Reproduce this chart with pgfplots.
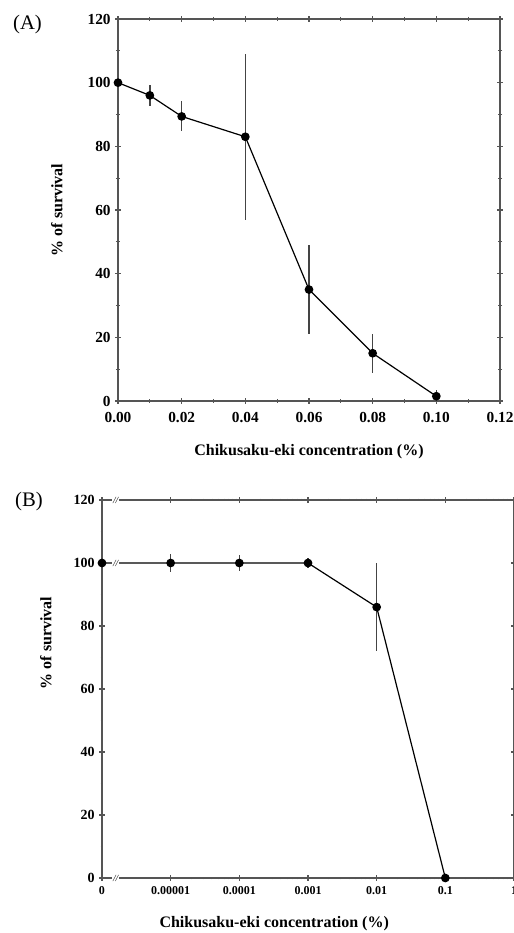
\documentclass[border=0pt]{standalone}
\usepackage{fontspec}
\setmainfont{Liberation Serif}
\usepackage{pgfplots}
\pgfplotsset{compat=1.18}
\definecolor{axgray}{HTML}{555555}
\definecolor{ebgray}{HTML}{444444}
\tikzset{brk/.style={font=\fontsize{7}{7}\selectfont\itshape, fill=white, inner sep=0.6pt}}
\begin{document}
\begin{tikzpicture}[x=1pt,y=1pt]
\useasboundingbox (0,0) rectangle (385.5,699.75);
\pgfplotsset{
  common/.style={
    scale only axis,
    ymin=0, ymax=120,
    ytick={0,20,40,60,80,100,120},
    minor y tick num=1,
    tick align=center,
    axis line style={axgray, line width=1pt},
    every tick/.style={axgray, line width=0.8pt},
    major tick length=4pt, minor tick length=3pt,
    /pgf/number format/assume math mode=true,
    label style={font=\bfseries\fontsize{12}{14}\selectfont},
    error bars/y dir=both, error bars/y explicit,
    error bars/error mark=none,
    error bars/error bar style={ebgray, line width=1pt},
  },
  dataline/.style={black, line width=0.9pt, mark=*, mark size=2.8pt, mark options={fill=black}},
}
\node[font=\fontsize{15.5}{17}\selectfont] at (20.6,681) {(A)};
\begin{axis}[common,
  at={(88.5pt,399pt)}, anchor=south west,
  width=286.5pt, height=286.5pt,
  xmin=0, xmax=0.12,
  xtick={0,0.02,0.04,0.06,0.08,0.10,0.12},
  xticklabels={0.00,0.02,0.04,0.06,0.08,0.10,0.12},
  minor x tick num=1,
  tick label style={font=\bfseries\fontsize{11.5}{13}\selectfont},
  xticklabel style={yshift=-3pt},
  xlabel={Chikusaku-eki concentration (\%)},
  ylabel={\% of survival},
  xlabel style={at={(axis description cs:0.5,-0.1335)}, anchor=center},
  ylabel style={at={(axis description cs:-0.16,0.5)}, anchor=center},
]
\addplot+[dataline] coordinates {
  (0,100) +- (0,0)
  (0.01,96) +- (0,3.3)
  (0.02,89.4) +- (0,4.7)
  (0.04,83) +- (0,26)
  (0.06,35) +- (0,14)
  (0.08,15) +- (0,6.2)
  (0.10,1.5) +- (0,2)
};
\end{axis}

\node[font=\fontsize{15.5}{17}\selectfont] at (21.75,323.25) {(B)};
\begin{axis}[common,
  at={(76.5pt,41.25pt)}, anchor=south west,
  width=309pt, height=283.5pt,
  xmin=0, xmax=6,
  xtick={0,1,2,3,4,5,6},
  xticklabels={0,0.00001,0.0001,0.001,0.01,0.1,1},
  minor xtick={1.301,1.477,1.602,1.699,1.778,1.845,1.903,1.954,
               2.301,2.477,2.602,2.699,2.778,2.845,2.903,2.954,
               3.301,3.477,3.602,3.699,3.778,3.845,3.903,3.954,
               4.301,4.477,4.602,4.699,4.778,4.845,4.903,4.954,
               5.301,5.477,5.602,5.699,5.778,5.845,5.903,5.954},
  minor tick length=2pt,
  yticklabel style={font=\bfseries\fontsize{10.5}{12}\selectfont},
  xticklabel style={font=\bfseries\fontsize{9}{10}\selectfont, yshift=-1pt},
  xlabel={Chikusaku-eki concentration (\%)},
  ylabel={\% of survival},
  xlabel style={at={(axis description cs:0.418,-0.12)}, anchor=center},
  ylabel style={at={(axis description cs:-0.136,0.622)}, anchor=center},
  clip=false,
]
\addplot+[dataline] coordinates {
  (0,100) +- (0,0)
  (1,100) +- (0,3)
  (2,100) +- (0,2.5)
  (3,100) +- (0,1.5)
  (4,86) +- (0,14)
  (5,0) +- (0,0)
};
\node[brk] at (axis cs:0.2,120) {//};
\node[brk] at (axis cs:0.2,100) {//};
\node[brk] at (axis cs:0.2,0) {//};
\end{axis}
\end{tikzpicture}
\end{document}
